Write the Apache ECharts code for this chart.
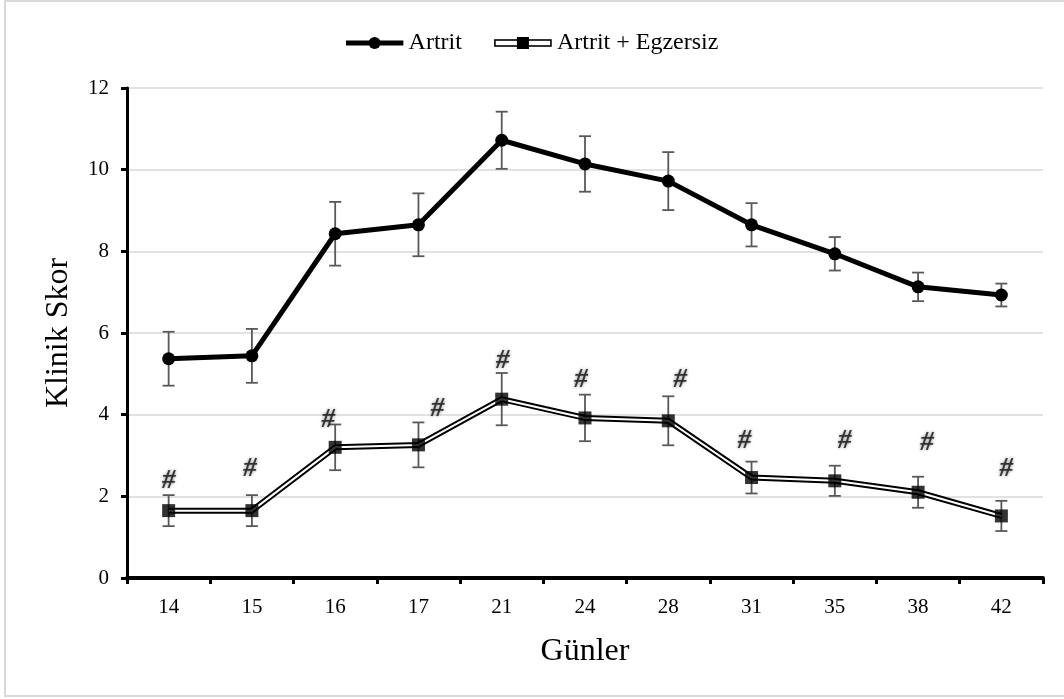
<!DOCTYPE html>
<html>
<head>
<meta charset="utf-8">
<script src="https://cdn.jsdelivr.net/npm/echarts@6/dist/echarts.min.js"></script>
<style>html,body{margin:0;padding:0;background:#fff}#c{width:1064px;height:699px}</style>
</head>
<body>
<div id="c"></div>
<script>
const days = ['14','15','16','17','21','24','28','31','35','38','42'];
const artrit = [5.37, 5.44, 8.43, 8.65, 10.72, 10.14, 9.72, 8.65, 7.94, 7.13, 6.93];
const artritErr = [0.66, 0.66, 0.78, 0.77, 0.70, 0.68, 0.71, 0.53, 0.41, 0.35, 0.28];
const egz = [1.65, 1.65, 3.20, 3.26, 4.38, 3.92, 3.85, 2.46, 2.38, 2.10, 1.52];
const egzErr = [0.38, 0.38, 0.56, 0.55, 0.64, 0.57, 0.60, 0.39, 0.37, 0.38, 0.37];
const hashY = [2.38, 2.67, 3.87, 4.14, 5.31, 4.85, 4.85, 3.36, 3.36, 3.31, 2.67];
const yTicks = [0, 2, 4, 6, 8, 10, 12];

const hashNudge = [0, -2, -7, 19, 1, -4, 12, -7, 10, 9, 5];
const FONT = '"Liberation Serif", "Times New Roman", serif';

function svgIcon(s){ return 'image://data:image/svg+xml;charset=utf-8,' + encodeURIComponent(s); }
const iconA = svgIcon('<svg xmlns="http://www.w3.org/2000/svg" width="58" height="14"><line x1="0" y1="7" x2="58" y2="7" stroke="#000" stroke-width="5"/><circle cx="29" cy="7" r="6" fill="#000"/></svg>');
const iconB = svgIcon('<svg xmlns="http://www.w3.org/2000/svg" width="58" height="14"><rect x="1" y="4" width="56" height="6" fill="#fff" stroke="#000" stroke-width="1.6"/><rect x="23" y="1" width="12" height="12" fill="#000"/></svg>');

function errSeries(name, vals, errs){
  return {
    type: 'custom', name: name + ' err', silent: true, z: 1,
    data: vals.map((v,i)=>[i, v - errs[i], v + errs[i]]),
    renderItem: function(params, api){
      const lo = api.coord([api.value(0), api.value(1)]);
      const hi = api.coord([api.value(0), api.value(2)]);
      const w = 6;
      const st = {stroke:'#595959', lineWidth:1.8};
      return {type:'group', children:[
        {type:'line', shape:{x1:lo[0], y1:lo[1], x2:hi[0], y2:hi[1]}, style:st},
        {type:'line', shape:{x1:lo[0]-w, y1:lo[1], x2:lo[0]+w, y2:lo[1]}, style:st},
        {type:'line', shape:{x1:hi[0]-w, y1:hi[1], x2:hi[0]+w, y2:hi[1]}, style:st}
      ]};
    }
  };
}

const chart = echarts.init(document.getElementById('c'), null, {renderer:'canvas'});
chart.setOption({
  animation: false,
  backgroundColor: '#fff',
  textStyle: {fontFamily: FONT},
  graphic: [{type:'rect', shape:{x:5, y:1, width:1070, height:695}, style:{fill:'none', stroke:'#d9d9d9', lineWidth:2}, silent:true, z:-1}],
  legend: {
    top: 26, left: 'center', itemWidth: 58, itemHeight: 14, itemGap: 32,
    textStyle: {fontFamily: FONT, fontSize: 24, color: '#000'},
    data: [{name:'Artrit', icon: iconA}, {name:'Artrit + Egzersiz', icon: iconB}]
  },
  grid: {left: 127, right: 21, top: 88, bottom: 121},
  xAxis: {
    type: 'category', data: days, boundaryGap: true,
    name: 'Günler', nameLocation: 'middle', nameGap: 58,
    nameTextStyle: {fontFamily: FONT, fontSize: 32, color: '#000'},
    axisLine: {lineStyle: {color:'#000', width:4}},
    axisTick: {show: true, length: 6, lineStyle: {color:'#000', width:3}},
    axisLabel: {fontFamily: FONT, fontSize: 21, color: '#000', margin: 19}
  },
  yAxis: {
    type: 'value', min: 0, max: 12, interval: 2,
    name: 'Klinik Skor', nameLocation: 'middle', nameGap: 52,
    nameTextStyle: {fontFamily: FONT, fontSize: 32, color: '#000'},
    axisLine: {show: true, lineStyle: {color:'#000', width:3}},
    axisTick: {show: true, length: 6, lineStyle: {color:'#000', width:3}},
    axisLabel: {fontFamily: FONT, fontSize: 21, color: '#000', margin: 18,
      formatter: v => yTicks.includes(v) ? String(v) : ''},
    splitLine: {show: true, lineStyle: {color:'#d9d9d9', width:1.5}}
  },
  series: [
    errSeries('Artrit', artrit, artritErr),
    errSeries('Artrit + Egzersiz', egz, egzErr),
    {
      name: 'Artrit', type: 'line', data: artrit, z: 3,
      symbol: 'circle', symbolSize: 13,
      itemStyle: {color:'#000'}, lineStyle: {color:'#000', width:5}
    },
    {
      name: 'Artrit + Egzersiz', type: 'line', data: egz, z: 3,
      symbol: 'none',
      itemStyle: {color:'#000'}, lineStyle: {color:'#000', width:6}
    },
    {
      name: 'egz-inner', type: 'line', data: egz, z: 4, silent: true,
      symbol: 'none', lineStyle: {color:'#fff', width:2}
    },
    {
      name: 'Artrit + Egzersiz', type: 'scatter', data: egz.map((v,i)=>[i,v]), z: 5,
      symbol: 'rect', symbolSize: 13, itemStyle: {color:'#000'}
    },
    {
      name: 'hash', type: 'scatter', z: 6, silent: true,
      symbol: 'circle', symbolSize: 1, itemStyle: {color:'rgba(0,0,0,0)'},
      data: hashY.map((v,i)=>({value:[i,v], label:{offset:[hashNudge[i],0]}})),
      label: {show: true, position: 'inside', formatter: '#',
        fontFamily: FONT, fontSize: 27, fontWeight: 'bold', fontStyle: 'italic', color: '#111',
        textShadowColor: 'rgba(0,0,0,0.6)', textShadowBlur: 3}
    }
  ]
});
</script>
</body>
</html>
